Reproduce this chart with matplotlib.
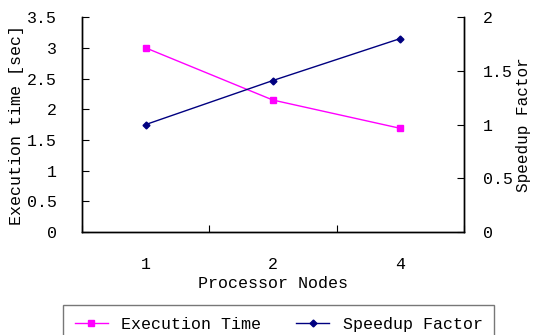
import numpy as np
import matplotlib.pyplot as plt

# processor node counts and measured values
nodes = ['1', '2', '4']
exec_time = [3.0, 2.15, 1.69]
speedup = [1.0, 1.41, 1.80]

plt.rcParams['font.family'] = ['Liberation Mono', 'DejaVu Sans Mono']
plt.rcParams['font.size'] = 12

fig = plt.figure(figsize=(5.35, 3.35), dpi=100)
ax = fig.add_axes([0.153, 0.307, 0.714, 0.642])
ax2 = ax.twinx()

x = np.arange(len(nodes))
l1, = ax.plot(x, exec_time, color='#FF00FF', marker='s', markersize=4.5, lw=1, label='Execution Time')
l2, = ax2.plot(x, speedup, color='#000080', marker='D', markersize=3.5, lw=1, label='Speedup Factor')

ax.set_xlim(-0.5, len(nodes) - 0.5)
ax.set_ylim(0, 3.5)
ax2.set_ylim(0, 2)
ax.set_yticks(np.arange(0, 3.51, 0.5))
ax.set_yticklabels(['0', '0.5', '1', '1.5', '2', '2.5', '3', '3.5'])
ax2.set_yticks([0, 0.5, 1, 1.5, 2])
ax2.set_yticklabels(['0', '0.5', '1', '1.5', '2'])

# category boundaries as major ticks, labels on minor ticks
ax.set_xticks(np.arange(-0.5, len(nodes), 1))
ax.set_xticklabels([])
ax.set_xticks(x, minor=True)
ax.set_xticklabels(nodes, minor=True)
ax.tick_params(axis='x', which='major', direction='in', length=5)
ax.tick_params(axis='x', which='minor', length=0, pad=18)
ax.tick_params(axis='y', direction='in', length=5, pad=18)
ax2.tick_params(axis='y', direction='in', length=5, pad=14)

for a in (ax, ax2):
    a.spines['top'].set_visible(False)
    for s in a.spines.values():
        s.set_linewidth(1)

ax.set_xlabel('Processor Nodes', labelpad=3)
ax.set_ylabel('Execution time [sec]', labelpad=2)
ax2.set_ylabel('Speedup Factor', labelpad=2, fontsize=11.5)

leg = fig.legend(handles=[l1, l2], loc='upper left', bbox_to_anchor=(0.118, 0.09, 0.806, 0),
                 mode='expand', ncol=2, frameon=True, fancybox=False, borderaxespad=0,
                 borderpad=0.7, handlelength=2, columnspacing=2)
leg.get_frame().set_edgecolor('#555555')
leg.get_frame().set_linewidth(1)

fig.savefig('out.png', dpi=100)
